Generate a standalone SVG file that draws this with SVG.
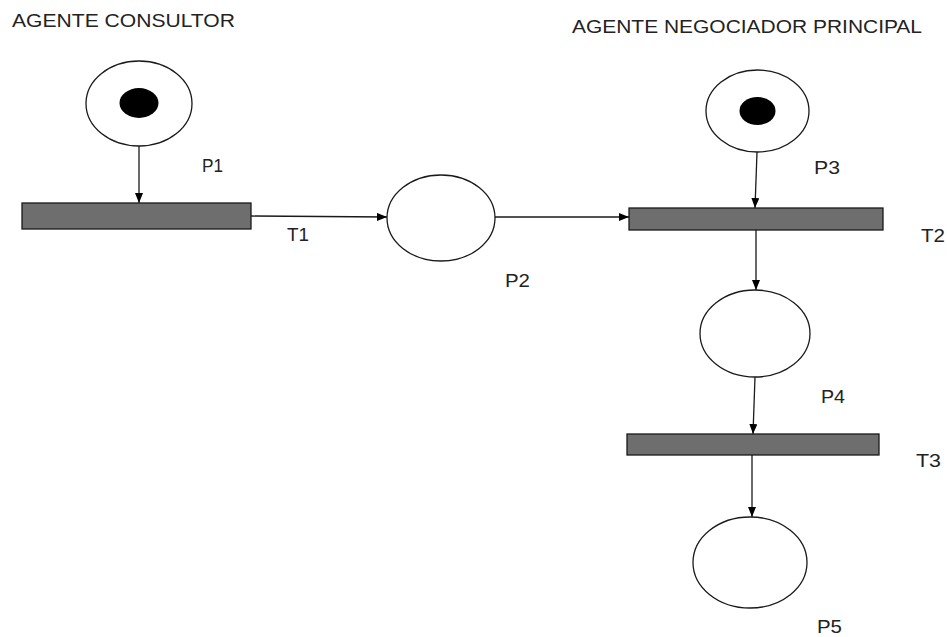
<svg xmlns="http://www.w3.org/2000/svg" width="947" height="637" viewBox="0 0 947 637">
  <style>
    .place { fill: #ffffff; stroke: #1a1a1a; stroke-width: 1.3; }
    .token { fill: #000000; }
    .trans { fill: #6e6e6e; stroke: #1a1a1a; stroke-width: 1.3; }
    .arc { fill: none; stroke: #1a1a1a; stroke-width: 1.3; marker-end: url(#head); }
    .label { font-family: "Liberation Sans", Arial, sans-serif; font-size: 18px; fill: #222222; }
    .title { font-family: "Liberation Sans", Arial, sans-serif; font-size: 18px; fill: #222222; }
  </style>
  <defs>
    <marker id="head" viewBox="0 0 10 8" refX="10" refY="4" markerWidth="10" markerHeight="8" markerUnits="userSpaceOnUse" orient="auto">
      <path d="M0,0 L10,4 L0,8 Z" fill="#000000"/>
    </marker>
  </defs>
  <rect width="947" height="637" fill="#ffffff"/>

  <text class="title" x="12" y="27" textLength="223" lengthAdjust="spacingAndGlyphs">AGENTE CONSULTOR</text>
  <text class="title" x="572" y="33" textLength="350" lengthAdjust="spacingAndGlyphs">AGENTE NEGOCIADOR PRINCIPAL</text>

  <g id="connectors">
    <line class="arc" x1="139" y1="146" x2="139" y2="203"/>
    <line class="arc" x1="251" y1="216" x2="387" y2="217"/>
    <line class="arc" x1="495" y1="217" x2="629" y2="217"/>
    <line class="arc" x1="757" y1="152" x2="755" y2="208"/>
    <line class="arc" x1="756" y1="230" x2="756" y2="290"/>
    <line class="arc" x1="755" y1="377" x2="753" y2="434"/>
    <line class="arc" x1="752" y1="455" x2="752" y2="517"/>
  </g>

  <g id="P1">
    <ellipse class="place" cx="139" cy="103.5" rx="53" ry="42.5"/>
    <ellipse class="token" cx="139" cy="103" rx="19.5" ry="15"/>
    <text class="label" x="202" y="172" textLength="21" lengthAdjust="spacingAndGlyphs">P1</text>
  </g>
  <g id="T1">
    <rect class="trans" x="22" y="203" width="229" height="26"/>
    <text class="label" x="287" y="241" textLength="22" lengthAdjust="spacingAndGlyphs">T1</text>
  </g>
  <g id="P2">
    <ellipse class="place" cx="441" cy="218" rx="54" ry="43"/>
    <text class="label" x="505" y="287" textLength="25" lengthAdjust="spacingAndGlyphs">P2</text>
  </g>
  <g id="P3">
    <ellipse class="place" cx="757.5" cy="111" rx="51.5" ry="41"/>
    <ellipse class="token" cx="757.5" cy="111" rx="18" ry="14"/>
    <text class="label" x="814" y="174" textLength="26" lengthAdjust="spacingAndGlyphs">P3</text>
  </g>
  <g id="T2">
    <rect class="trans" x="629" y="208" width="254" height="22"/>
    <text class="label" x="921" y="242" textLength="24" lengthAdjust="spacingAndGlyphs">T2</text>
  </g>
  <g id="P4">
    <ellipse class="place" cx="755" cy="333.5" rx="55" ry="43.5"/>
    <text class="label" x="821" y="403" textLength="24" lengthAdjust="spacingAndGlyphs">P4</text>
  </g>
  <g id="T3">
    <rect class="trans" x="627" y="434" width="252" height="21"/>
    <text class="label" x="916" y="467" textLength="25" lengthAdjust="spacingAndGlyphs">T3</text>
  </g>
  <g id="P5">
    <ellipse class="place" cx="750" cy="562.5" rx="57" ry="45.5"/>
    <text class="label" x="817" y="633" textLength="25" lengthAdjust="spacingAndGlyphs">P5</text>
  </g>
</svg>
